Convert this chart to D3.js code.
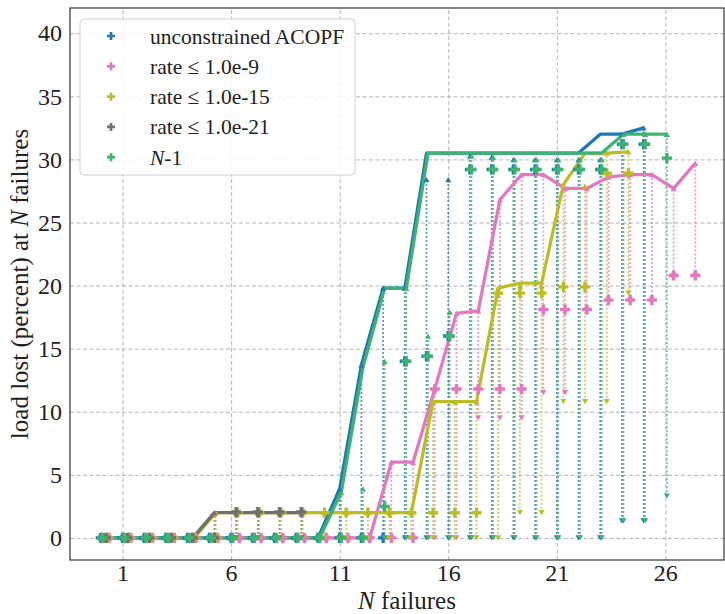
<!DOCTYPE html>
<html>
<head>
<meta charset="utf-8">
<script src="https://cdn.jsdelivr.net/npm/d3@7"></script>
<style>
  body { margin: 0; background: #fff; }
  svg text { font-family: 'Liberation Serif', 'Times New Roman', serif !important; fill: #222; }
</style>
</head>
<body>
<div id="plot"></div>
<script>
// N failures (index of each cluster) and axis ticks
const nFail = d3.range(0, 28);
const xTicks = [1, 6, 11, 16, 21, 26];
const yTicks = [0, 5, 10, 15, 20, 25, 30, 35, 40];

// unconstrained ACOPF
const acopfLine = [0,0,0,0,0,0,0,0,0,0,0, 3.9,13.7,19.8,19.8, 30.5,30.5,30.5,30.5,30.5,30.5,30.5,30.5, 32,32,32.5];
const acopfMid  = [0,0,0,0,0,0,0,0,0,0,0,0,0,0, 14.0,14.4,16.0, 29.2,29.2,29.2,29.2,29.2,29.2,29.2, 31.2,31.2];
const acopfHi   = [0,0,0,0,0,0,0,0,0,0,0, 3.9,13.7,19.8,19.8, 28.4,28.4, 30.3,30.2, 30,30,30,30,30, 32,32.5];
const acopfLo   = [0,0,0,0,0,0,0,0,0,0,0,0,0,0,0,0,0,0,0,0,0,0,0,0, 1.35,1.35];

// rate <= 1.0e-9
const r9Line = [0,0,0,0,0,0,0,0,0,0,0,0,0, 6.0,6.0, 11.8,17.8,18.0,26.8,28.8,28.8,27.7,27.7,28.6,28.8,28.8,27.7,29.7];
const r9Mid  = [0,0,0,0,0,0,0,0,0,0,0,0,0,0,0, 11.8,11.8,11.8,11.8,11.8, 18.1,18.1,18.1, 18.85,18.85,18.85, 20.8,20.8];
const r9Hi   = [0,0,0,0,0,0,0,0,0,0,0,0,0, 6.0,6.0, 11.8,17.8,18.0,26.8,28.8,28.8,27.7,27.7,28.6,28.8,28.8,27.7,29.7];
const r9Lo   = [0,0,0,0,0,0,0,0,0,0,0,0,0,0,0,0,0, 9.5,9.5,9.5, 11.5,11.5, 18.1, 18.85,18.85,18.85, 20.8,20.8];

// rate <= 1.0e-15
const r15Line = [0,0,0,0,0, 2,2,2,2,2,2,2,2,2,2, 10.8,10.8,10.8, 19.8, 20.2,20.2, 28.0, 30.5,30.5, 30.6];
const r15Mid  = [0,0,0,0,0,0, 2,2,2,2,2,2,2,2,2,2,2,2, 19.4,19.4,19.4, 19.9,19.9, 28.9,28.9];
const r15Hi   = [0,0,0,0,0, 2,2,2,2,2,2,2,2,2,2, 10.8,10.8,10.8, 19.8, 20.0,20.0, 28.0, 27.9, 30.5, 30.6];
const r15Lo   = [0,0,0,0,0,0,0,0,0,0,0,0,0,0,0,0,0,0,0, 2.0,2.0, 10.8,10.8,10.8, 19.4];

// rate <= 1.0e-21
const r21Line = [0,0,0,0,0, 2,2,2,2,2];
const r21Mid  = [0,0,0,0,0,0, 2.05,2.05,2.05,2.05];
const r21Hi   = [0,0,0,0,0, 2,2,2,2,2];
const r21Lo   = [0,0,0,0,0,0,0,0,0,0];

// N-1
const n1Line = [0,0,0,0,0,0,0,0,0,0,0, 3.6,13.5,19.8,19.8, 30.5,30.5,30.5,30.5,30.5,30.5,30.5,30.5,30.5, 32,32,32];
const n1Mid  = [0,0,0,0,0,0,0,0,0,0,0,0,0, 2.5, 14.0,14.4,16.0, 29.2,29.2,29.2,29.2,29.2,29.2,29.2, 31.2,31.2,30.1];
const n1Hi   = [0,0,0,0,0,0,0,0,0,0,0, 3.6,3.9,14.0,19.8, 16.0,17.9, 30.3,30.2, 30,30,30,30,30, 32,32,32];
const n1Lo   = [0,0,0,0,0,0,0,0,0,0,0,0,0,0,0,0,0,0,0,0,0,0,0,0, 1.35,1.35,3.3];

const series = [
  {name: "unconstrained ACOPF", color: "#1f77b4", dx: 0,    line: acopfLine, mid: acopfMid, hi: acopfHi, lo: acopfLo},
  {name: "rate \u2264 1.0e-9",  color: "#e377c2", dx: 0.38, line: r9Line,    mid: r9Mid,    hi: r9Hi,    lo: r9Lo},
  {name: "rate \u2264 1.0e-15", color: "#bcbd22", dx: 0.3,  line: r15Line,   mid: r15Mid,   hi: r15Hi,   lo: r15Lo},
  {name: "rate \u2264 1.0e-21", color: "#6f6f6f", dx: 0.23, line: r21Line,   mid: r21Mid,   hi: r21Hi,   lo: r21Lo},
  {name: "N-1",                 color: "#3cb371", dx: 0.07, line: n1Line,    mid: n1Mid,    hi: n1Hi,    lo: n1Lo}
];

const serif = "'Liberation Serif', 'Times New Roman', serif";

const margin = {top: 8, right: 1, bottom: 54, left: 70},
      width = 725 - margin.left - margin.right,
      height = 614 - margin.top - margin.bottom;

const svg = d3.select("#plot")
  .append("svg")
    .attr("width", 725)
    .attr("height", 614)
  .append("g")
    .attr("transform", `translate(${margin.left},${margin.top})`);

const x = d3.scaleLinear().domain([-1.42, 28.7]).range([0, width]);
const y = d3.scaleLinear().domain([-1.75, 42]).range([height, 0]);

// grid
svg.append("g")
  .attr("class", "grid")
  .attr("transform", `translate(0,${height})`)
  .call(d3.axisBottom(x).tickValues(xTicks).tickSize(-height).tickFormat(""));
svg.append("g")
  .attr("class", "grid")
  .call(d3.axisLeft(y).tickValues(yTicks).tickSize(-width).tickFormat(""));
svg.selectAll(".grid .domain").remove();
svg.selectAll(".grid line")
  .attr("stroke", "#b4b4b4")
  .attr("stroke-width", 1)
  .attr("stroke-dasharray", "4,2.5");

// tick labels
const xAxis = svg.append("g")
  .attr("transform", `translate(0,${height})`)
  .call(d3.axisBottom(x).tickValues(xTicks).tickSize(0).tickPadding(6));
const yAxis = svg.append("g")
  .call(d3.axisLeft(y).tickValues(yTicks).tickSize(0).tickPadding(8));
[xAxis, yAxis].forEach(a => {
  a.attr("font-family", serif).attr("font-size", 24);
  a.select(".domain").remove();
  a.selectAll("text").attr("fill", "#222");
});
xAxis.selectAll("text").attr("dy", "0.62em");

const pts = (s, key) => s[key].map((v, i) => ({n: nFail[i] + s.dx, v: v}));

// dotted range lines
series.forEach(s => {
  svg.append("g").selectAll("line")
    .data(s.lo.map((v, i) => ({n: nFail[i] + s.dx, lo: v, hi: s.hi[i]})))
    .join("line")
      .attr("x1", d => x(d.n)).attr("x2", d => x(d.n))
      .attr("y1", d => y(d.lo)).attr("y2", d => y(d.hi))
      .attr("stroke", s.color)
      .attr("stroke-width", 1.7)
      .attr("stroke-dasharray", "2,2")
      .attr("opacity", 0.75);
});

// solid lines
const line = d3.line().x(d => x(d.n)).y(d => y(d.v));
series.forEach(s => {
  svg.append("path")
    .datum(pts(s, "line"))
    .attr("d", line)
    .attr("fill", "none")
    .attr("stroke", s.color)
    .attr("stroke-width", 3.3)
    .attr("stroke-linejoin", "round");
});

// markers
const plus = d3.symbol(d3.symbolCross, 58)();
const tri = d3.symbol(d3.symbolTriangle, 16)();
series.forEach(s => {
  const g = svg.append("g").attr("fill", s.color);
  g.selectAll(".up").data(pts(s, "hi")).join("path")
    .attr("d", tri)
    .attr("transform", d => `translate(${x(d.n)},${y(d.v) + 1})`);
  g.selectAll(".dn").data(pts(s, "lo")).join("path")
    .attr("d", tri)
    .attr("transform", d => `translate(${x(d.n)},${y(d.v) - 1}) rotate(180)`);
  g.selectAll(".mid").data(pts(s, "mid")).join("path")
    .attr("d", plus)
    .attr("transform", d => `translate(${x(d.n)},${y(d.v)})`);
});

// frame
svg.append("rect")
  .attr("width", width).attr("height", height)
  .attr("fill", "none")
  .attr("stroke", "#333")
  .attr("stroke-width", 1.2);

// axis labels
const xl = svg.append("text")
  .attr("x", width / 2 + 10)
  .attr("y", height + 49)
  .attr("text-anchor", "middle")
  .attr("font-family", serif)
  .attr("font-size", 25);
xl.append("tspan").attr("font-style", "italic").text("N");
xl.append("tspan").text(" failures");

const yl = svg.append("text")
  .attr("transform", `translate(${-42},${height / 2}) rotate(-90)`)
  .attr("text-anchor", "middle")
  .attr("font-family", serif)
  .attr("font-size", 25);
yl.append("tspan").text("load lost (percent) at ");
yl.append("tspan").attr("font-style", "italic").text("N");
yl.append("tspan").text(" failures");

// legend
const lg = svg.append("g").attr("transform", "translate(10,11)");
lg.append("rect")
  .attr("width", 275).attr("height", 156)
  .attr("rx", 4)
  .attr("fill", "#fff").attr("fill-opacity", 0.85)
  .attr("stroke", "#d0d0d0");
const legendMark = d3.symbol(d3.symbolCross, 36)();
series.forEach((s, i) => {
  const row = lg.append("g").attr("transform", `translate(31,${17 + i * 30.3})`);
  row.append("path").attr("d", legendMark).attr("fill", s.color);
  const t = row.append("text")
    .attr("x", 39)
    .attr("dy", "0.35em")
    .attr("font-family", serif)
    .attr("font-size", 21.5);
  if (s.name === "N-1") {
    t.append("tspan").attr("font-style", "italic").text("N");
    t.append("tspan").text("-1");
  } else {
    t.text(s.name);
  }
});
</script>
</body>
</html>
